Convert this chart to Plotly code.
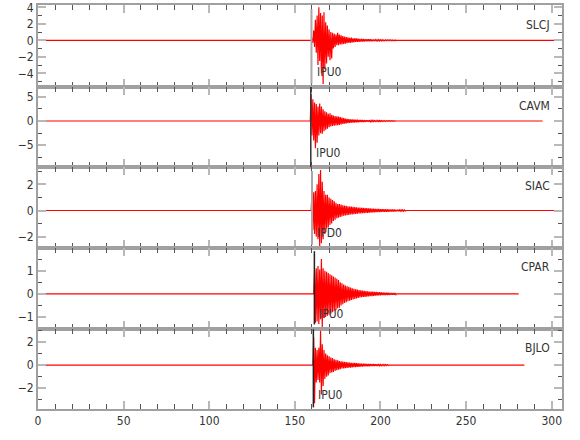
import plotly.graph_objects as go

# ---------------- data ----------------
stations = ["SLCJ", "CAVM", "SIAC", "CPAR", "BJLO"]
pick_labels = ["IPU0", "IPU0", "IPD0", "IPU0", "IPU0"]
pick_times = [159.7, 159.3, 160.0, 161.4, 160.8]
record_start = [0, 0, 0, 0, 0]
record_end = [306, 294.7, 306, 280.7, 284.0]
onsets = [160.0, 159.5, 160.0, 161.5, 161.0]   # first sample of the event, 1 s spacing

slcj_up = [0.3, 1.2, 2.5, 3.0, 4.0, 3.3, 3.0, 3.4, 2.2, 1.8, 1.3, 1.0, 0.9, 0.8, 0.7, 0.9, 0.7, 0.6, 0.5, 0.45,
           0.4, 0.35, 0.3, 0.32, 0.25, 0.25, 0.22, 0.2, 0.18, 0.16, 0.15, 0.14, 0.13, 0.12, 0.12, 0.1, 0.1, 0.09,
           0.08, 0.08, 0.07, 0.07, 0.06, 0.06, 0.05, 0.05, 0.05, 0.04, 0.04, 0.04]
slcj_dn = [-0.3, -0.8, -1.5, -3.0, -2.5, -4.0, -5.3, -3.5, -2.8, -2.0, -2.4, -2.2, -1.0, -0.8, -0.6, -0.6, -0.5,
           -0.5, -0.45, -0.4, -0.35, -0.3, -0.3, -0.25, -0.25, -0.2, -0.2, -0.18, -0.16, -0.15, -0.14, -0.13,
           -0.12, -0.11, -0.1, -0.1, -0.09, -0.08, -0.08, -0.07, -0.07, -0.06, -0.06, -0.05, -0.05, -0.05,
           -0.04, -0.04, -0.04, -0.04]

cavm_up = [5.5, 4.5, 3.8, 3.5, 3.0, 3.6, 3.0, 2.4, 2.0, 1.8, 1.5, 1.6, 1.3, 1.1, 1.0, 0.95, 0.9, 0.8, 0.7, 0.6,
           0.5, 0.45, 0.4, 0.35, 0.33, 0.3, 0.28, 0.25, 0.23, 0.21, 0.2, 0.18, 0.17, 0.16, 0.15, 0.14, 0.13, 0.12,
           0.11, 0.1, 0.1, 0.09, 0.08, 0.08, 0.07, 0.07, 0.06, 0.06, 0.05, 0.05]
cavm_dn = [-3.0, -4.0, -5.6, -4.5, -3.0, -2.5, -2.6, -2.1, -1.8, -1.6, -1.3, -1.1, -1.0, -0.95, -0.9, -0.85, -0.8,
           -0.7, -0.6, -0.55, -0.5, -0.45, -0.4, -0.35, -0.33, -0.3, -0.28, -0.25, -0.23, -0.21, -0.2, -0.18,
           -0.17, -0.16, -0.15, -0.14, -0.13, -0.12, -0.11, -0.1, -0.1, -0.09, -0.08, -0.08, -0.07, -0.07,
           -0.06, -0.06, -0.05, -0.05]

siac_up = [1.3, 1.4, 1.5, 2.0, 2.8, 3.1, 2.2, 1.5, 1.2, 1.2, 1.0, 0.9, 0.8, 0.7, 0.6, 0.5, 0.5, 0.45, 0.4, 0.38,
           0.35, 0.33, 0.3, 0.3, 0.28, 0.26, 0.25, 0.23, 0.22, 0.2, 0.2, 0.19, 0.18, 0.17, 0.16, 0.15, 0.14, 0.13,
           0.12, 0.12, 0.11, 0.1, 0.1, 0.09, 0.09, 0.08, 0.08, 0.07, 0.07, 0.06, 0.06, 0.05, 0.05, 0.05, 0.04]
siac_dn = [-1.5, -1.8, -2.0, -2.2, -2.75, -2.5, -2.2, -1.8, -1.4, -1.3, -1.1, -1.0, -0.8, -0.7, -0.6, -0.55, -0.5,
           -0.45, -0.4, -0.38, -0.35, -0.33, -0.3, -0.3, -0.28, -0.26, -0.25, -0.23, -0.22, -0.2, -0.2, -0.19,
           -0.18, -0.17, -0.16, -0.15, -0.14, -0.13, -0.12, -0.12, -0.11, -0.1, -0.1, -0.09, -0.09, -0.08,
           -0.08, -0.07, -0.07, -0.06, -0.06, -0.05, -0.05, -0.05, -0.04]

cpar_up = [1.0, 1.1, 1.2, 1.05, 1.5, 1.1, 1.0, 0.95, 0.9, 0.85, 0.8, 0.75, 0.7, 0.65, 0.6, 0.5, 0.45, 0.4, 0.36,
           0.32, 0.3, 0.27, 0.24, 0.22, 0.2, 0.18, 0.16, 0.15, 0.14, 0.13, 0.12, 0.11, 0.1, 0.1, 0.09, 0.08,
           0.08, 0.07, 0.07, 0.06, 0.06, 0.05, 0.05, 0.05, 0.04, 0.04, 0.04, 0.04]
cpar_dn = [-1.25, -1.2, -1.3, -1.1, -1.48, -1.05, -1.0, -0.95, -0.9, -0.85, -0.8, -0.75, -0.7, -0.62, -0.6, -0.5,
           -0.45, -0.4, -0.36, -0.32, -0.3, -0.27, -0.24, -0.22, -0.2, -0.18, -0.16, -0.15, -0.14, -0.13, -0.12,
           -0.11, -0.1, -0.1, -0.09, -0.08, -0.08, -0.07, -0.07, -0.06, -0.06, -0.05, -0.05, -0.05, -0.04,
           -0.04, -0.04, -0.04]

bjlo_up = [2.4, 1.5, 1.3, 1.5, 2.96, 1.8, 1.3, 1.0, 0.85, 0.75, 0.65, 0.6, 0.5, 0.45, 0.4, 0.35, 0.33, 0.3, 0.28,
           0.25, 0.23, 0.22, 0.2, 0.19, 0.18, 0.16, 0.15, 0.14, 0.13, 0.12, 0.11, 0.1, 0.1, 0.09, 0.08, 0.08,
           0.07, 0.07, 0.06, 0.06, 0.05, 0.05, 0.05, 0.04]
bjlo_dn = [-3.3, -1.5, -1.3, -1.5, -2.55, -1.8, -1.2, -1.0, -0.9, -0.7, -0.65, -0.6, -0.5, -0.45, -0.4, -0.35, -0.3,
           -0.3, -0.27, -0.25, -0.23, -0.22, -0.2, -0.19, -0.18, -0.16, -0.15, -0.14, -0.13, -0.12, -0.11, -0.1,
           -0.1, -0.09, -0.08, -0.08, -0.07, -0.07, -0.06, -0.06, -0.05, -0.05, -0.05, -0.04]

uppers = [slcj_up, cavm_up, siac_up, cpar_up, bjlo_up]
lowers = [slcj_dn, cavm_dn, siac_dn, cpar_dn, bjlo_dn]

y_ranges = [[-5.66, 4.28], [-9.47, 7.0], [-2.87, 3.33], [-1.50, 1.98], [-3.8, 3.16]]
y_dticks = [2, 5, 2, 1, 2]
y_minor = [1, 2.5, 1, 0.5, 1]
pick_colors = ["#a8a8a8", "#333333", "#a8a8a8", "#222222", "#222222"]
pick_widths = [2, 1.5, 2, 1.5, 1.5]
pick_span = [[0.04, 0.95], [0.0, 1.0], [0.04, 0.95], [0.05, 0.96], [0.02, 0.99]]

# ---------------- layout geometry (pixels) ----------------
W, H = 580, 440
ml, mr, mt, mb = 38, 18, 5, 31
bounds_px = [5, 87, 167, 248, 328.5, 409]
plot_h = H - mt - mb

def frac(px):
    return (H - mb - px) / plot_h

FONT = "Liberation Sans Narrow, DejaVu Sans Condensed, Arial Narrow, sans-serif"
GREY = "#a0a0a0"

fig = go.Figure()
layout = dict(
    width=W, height=H,
    margin=dict(l=ml, r=mr, t=mt, b=mb, autoexpand=False),
    paper_bgcolor="white", plot_bgcolor="white",
    showlegend=False,
    font=dict(family=FONT, size=12, color="#333333"),
)
annotations = []
shapes = []

for k in range(5):
    n = k + 1
    xa = "x" if n == 1 else f"x{n}"
    ya = "y" if n == 1 else f"y{n}"
    xs = [record_start[k], onsets[k] - 0.5]
    ys = [0.0, 0.0]
    for i, (u, d) in enumerate(zip(uppers[k], lowers[k])):
        xs += [onsets[k] + i, onsets[k] + i + 0.5]
        ys += [u, d]
    xs += [onsets[k] + len(uppers[k]), record_end[k]]
    ys += [0.0, 0.0]
    fig.add_trace(go.Scatter(x=xs, y=ys, mode="lines", xaxis=xa, yaxis=ya,
                             line=dict(color="#ff0000", width=1.2), hoverinfo="skip"))

    dom = [frac(bounds_px[k + 1]), frac(bounds_px[k])]
    dom = [max(0.0, dom[0]), min(1.0, dom[1])]
    layout["xaxis" if n == 1 else f"xaxis{n}"] = dict(
        domain=[0, 1], anchor=ya, range=[0, 306], matches=None if n == 1 else "x",
        showline=True, linecolor=GREY, linewidth=2, mirror="allticks", automargin=False,
        ticks="inside", ticklen=8, tickwidth=2, tickcolor="#b8b8b8",
        tick0=0, dtick=50, showgrid=False, zeroline=False,
        showticklabels=(n == 5), tickfont=dict(family=FONT, size=12, color="#333333"),
        minor=dict(ticks="inside", ticklen=5, tickwidth=1, tickcolor="#555555", dtick=10, tick0=0, showgrid=False),
    )
    layout["yaxis" if n == 1 else f"yaxis{n}"] = dict(
        domain=dom, anchor=xa, range=y_ranges[k], automargin=False,
        showline=True, linecolor=GREY, linewidth=2, mirror="allticks",
        ticks="inside", ticklen=8, tickwidth=2, tickcolor="#b8b8b8",
        tick0=0, dtick=y_dticks[k], showgrid=False, zeroline=False,
        tickfont=dict(family=FONT, size=12, color="#333333"),
        minor=dict(ticks="inside", ticklen=4, tickwidth=1, tickcolor="#555555", dtick=y_minor[k], tick0=0, showgrid=False),
    )
    annotations.append(dict(x=300, y=0.76, xref=xa, yref=f"{ya} domain", text=stations[k],
                            showarrow=False, xanchor="right", yanchor="middle",
                            font=dict(family=FONT, size=12, color="#333333")))
    shapes.append(dict(type="line", xref=xa, yref=f"{ya} domain", x0=pick_times[k], x1=pick_times[k],
                       y0=pick_span[k][0], y1=pick_span[k][1],
                       line=dict(color=pick_colors[k], width=pick_widths[k])))
    annotations.append(dict(x=pick_times[k] + 1.8, y=0.18, xref=xa, yref=f"{ya} domain", text=pick_labels[k],
                            showarrow=False, xanchor="left", yanchor="middle",
                            font=dict(family=FONT, size=12, color="#333333")))

layout["annotations"] = annotations
layout["shapes"] = shapes
fig.update_layout(**layout)
fig.write_html("out.html", config={"displayModeBar": False, "staticPlot": True},
               post_script="document.body.style.margin='0';document.body.style.overflow='hidden';")
